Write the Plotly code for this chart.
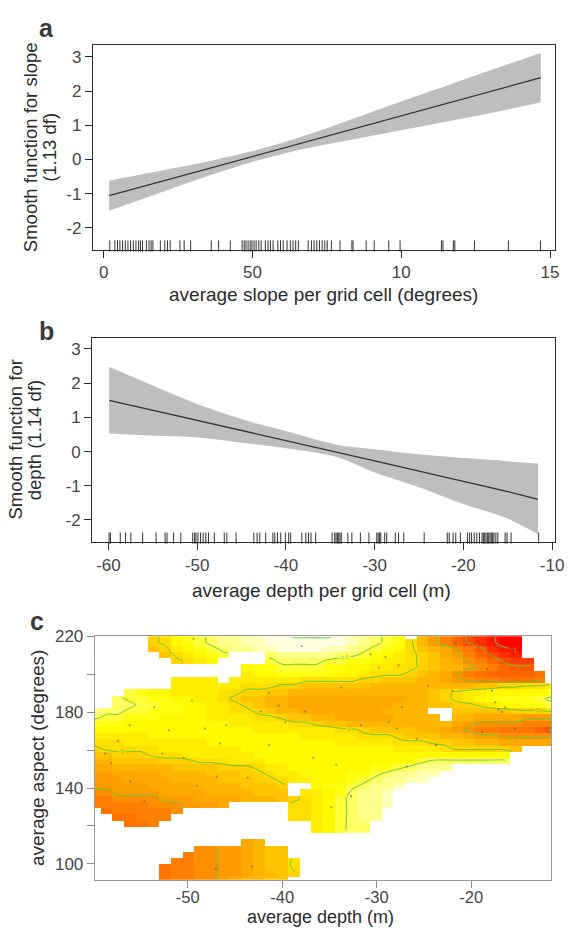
import colorsys
import numpy as np
import plotly.graph_objects as go

W, H = 568, 929

# ---------------- panel a : smooth for slope ----------------
slope_x = [0.18, 2.04, 3.37, 4.93, 6.49, 8.1, 9.74, 12.28, 14.69]
slope_fit = [-1.06, -0.62, -0.30, 0.07, 0.44, 0.82, 1.21, 1.81, 2.39]
slope_upper = [-0.62, -0.31, -0.08, 0.23, 0.62, 1.10, 1.61, 2.39, 3.11]
slope_lower = [-1.50, -0.93, -0.52, -0.09, 0.26, 0.54, 0.81, 1.23, 1.67]
slope_rug = [0.20, 0.37, 0.46, 0.54, 0.63, 0.72, 0.81, 0.90, 0.99, 1.08, 1.17, 1.23, 1.30,
             1.43, 1.52, 1.59, 1.65, 1.90, 2.05, 2.14, 2.23, 2.56, 2.70, 2.92, 3.61, 3.86,
             4.25, 4.65, 4.72, 4.78, 4.85, 4.92, 4.98, 5.05, 5.12, 5.21, 5.29, 5.43, 5.52,
             5.60, 5.69, 5.85, 5.94, 6.03, 6.16, 6.27, 6.36, 6.45, 6.54, 6.87, 6.98, 7.07,
             7.16, 7.25, 7.34, 7.43, 7.51, 7.65, 7.94, 8.34, 8.38, 8.82, 9.09, 9.58, 9.96,
             11.35, 11.40, 11.75, 11.80, 12.46, 13.60, 14.68]
slope_tickvals = [0, 5, 10, 15]
slope_ticktext = ["0", "50", "10", "15"]

# ---------------- panel b : smooth for depth ----------------
depth_x = [-59.92, -55, -50, -45, -40, -34.4, -30, -25, -20, -15, -11.6]
depth_fit = [1.50, 1.21, 0.93, 0.63, 0.33, 0.00, -0.27, -0.57, -0.87, -1.17, -1.40]
depth_upper = [2.48, 1.93, 1.39, 0.95, 0.60, 0.21, 0.07, -0.08, -0.19, -0.28, -0.35]
depth_lower = [0.53, 0.47, 0.41, 0.26, 0.10, -0.15, -0.61, -1.04, -1.53, -1.96, -2.42]
depth_rug = [-59.93, -59.78, -58.67, -58.07, -57.48, -56.15, -54.63, -53.62, -53.40, -52.66,
             -51.85, -50.51, -50.29, -50.14, -49.92, -49.62, -49.33, -49.03, -48.73, -48.07,
             -46.95, -46.66, -45.62, -43.62, -43.25, -42.95, -42.28, -41.47, -41.25, -40.95,
             -40.58, -40.06, -39.69, -39.47, -38.21, -37.76, -37.46, -37.17, -36.65, -34.80,
             -34.50, -34.35, -34.20, -34.05, -33.91, -33.76, -33.02, -32.57, -31.61, -30.65,
             -29.76, -29.61, -29.46, -29.31, -28.87, -28.64, -27.68, -27.31, -26.72, -24.42,
             -21.82, -21.60, -21.16, -20.86, -20.34, -19.53, -19.30, -19.08, -18.78, -18.49,
             -18.19, -17.90, -17.75, -17.60, -17.45, -17.30, -17.15, -17.00, -16.86, -16.71,
             -16.56, -16.34, -16.12, -15.30, -15.08, -14.63, -11.52]
smooth_tickvals = [-2, -1, 0, 1, 2, 3]
smooth_ticktext = ["-2", "-1", "0", "1", "2", "3"]
depth_tickvals = [-60, -50, -40, -30, -20, -10]
depth_ticktext = ["-60", "-50", "-40", "-30", "-20", "-10"]

# ---------------- panel c : depth x aspect surface ----------------
depth_range = [-59.83, -11.55]
aspect_range = [91.65, 220.0]
aspect_tickvals = [100, 120, 140, 160, 180, 200, 220]
aspect_ticktext = ["100", "", "140", "", "180", "", "220"]
depth_c_tickvals = [-50, -40, -30, -20]
depth_c_ticktext = ["-50", "-40", "-30", "-20"]

# observed grid cells (depth, aspect) shown as small dots
obs_depth = [-49.39, -37.93, -30.64, -29.08, -29.78, -27.69, -21.63, -19.71, -18.32, -17.28,
             -24.57, -21.97, -17.80, -17.46, -17.11, -16.76, -16.42, -53.55, -49.56, -41.41,
             -40.37, -33.77, -27.35, -37.59, -42.27, -39.67, -56.15, -51.99, -48.18, -45.92,
             -31.68, -28.74, -18.84, -15.38, -25.79, -27.87, -57.37, -46.62, -41.41, -23.71,
             -58.76, -52.69, -50.43, -36.72, -58.13, -34.29, -26.83, -56.05, -49.04, -46.96,
             -43.66, -54.59, -34.81, -32.72, -47.03, -43.21]
obs_aspect = [218.6, 214.8, 210.4, 209.0, 203.5, 204.7, 216.5, 219.1, 202.6, 213.9,
              193.9, 191.3, 191.3, 185.2, 181.4, 180.0, 182.6, 182.6, 186.1, 190.0,
              183.5, 193.0, 182.6, 180.3, 180.3, 174.8, 173.0, 170.4, 171.3, 173.0,
              173.0, 174.8, 169.5, 171.3, 166.0, 171.3, 164.8, 163.4, 162.6, 162.6,
              158.2, 158.2, 156.0, 156.0, 153.0, 152.2, 151.3, 143.5, 141.2, 146.1,
              145.5, 133.0, 129.9, 135.6, 97.4, 98.6]

# fitted surface, read cell by cell (rows from aspect 220 down to ~92, columns from depth -60 to -11.6)
# '.' = grid cell too far from data (not drawn)
level_codes = list("0123456789abcdefghijklmnopqrs")
level_values = [-1.75, -1.65, -1.55, -1.45, -1.35, -1.25, -1.15, -1.05, -0.95, -0.85,
                -0.75, -0.65, -0.55, -0.45, -0.35, -0.25, -0.15, -0.05, 0.05, 0.15,
                0.25, 0.35, 0.45, 0.55, 0.65, 0.75, 0.85, 0.95, 1.05]
surface_rows = [
    ".....hiklmnooppqqssssqponmk.fdb975310...",
    ".....hiklmnooppqqqqqqqponmlifdb975310...",
    ".....ghjklmnooppqqqqpponmlkigfeca8532...",
    "......gijklm...nooooonnmlkjihgedb9754...",
    ".......hijk....mnnnnmmllkjjihgfecb9766..",
    ".............kllmmmmllkkjjiihgffdcb988..",
    ".............jkklllllkkjiiihgfecba9999a.",
    ".......jjjj.jjjjjjiiiiihhgggffedcbbaaab.",
    ".......jjjjjjiiihhggggggfffffffffgghhiij",
    "...mlkkjjjjiihhggffffffffffffghijjkkkkkl",
    "..nmmllkkjjihggffeeeeeeeeeeffghijkllllmn",
    "..nnmmllkkjjihgffeeeeeeeeefffgghhijkkllm",
    "onnmmlllkkjjiihgffeeeeeeeffff..ggggghhhi",
    "nmmlllkkkkjjjjiihggffeeeeeffff.ffeeeeddd",
    "lllkkkkkkkkkjjjjjiihggfffffffffedccccbbb",
    "kkkkkkkkkkkkkkjjjjjjjiihggggffedcbbaaa97",
    "jjjjjkkkkkkkkkkkkkjjjjjiiihgggffeddccccc",
    "iiijjjjjjjkkkkkkkkkkkjjjjjiiihhggffeeeee",
    "hiiiiijjjjjjjkkkkkkkkkkkkkjjjjihhhhhg...",
    "gghhhiiijjjjjjkkkkkkkkkkkkkkkkkkkkkk....",
    "ffgggghhhiiijjjkkkkkkkkkkkklmnnnnnnn....",
    "eefffffgggghhhijjkkkkkkkllmnooo.........",
    "ddeeeeffffggghhijjkkkkllmnoopp..........",
    "dddeeeeffffggghhijjkkklmnoopp...........",
    "dddddeeeeffffgggh..kllmnoop.............",
    "ccddddeeeeffffggg.jjklnoop..............",
    "bbccccdddeeeefffghijkmnoop..............",
    "bbbbbcccddde.....iijkmnoop..............",
    ".abbbbbc.........iijkmnoo...............",
    "..aabbb..........iijkmnoo...............",
    "...aab.............jkmnn................",
    "...................jkmnn................",
    "........................................",
    ".............ef.........................",
    ".........ccddefgg.......................",
    "........bccddefgg.......................",
    ".......bbccddefggi......................",
    "......abbccddefggi......................",
    "......abbccddeffgh......................",
    "......abbccdeffgg.......................",
]
contour_levels = dict(start=-1.5, end=1.0, size=0.5)
color_limits = [-1.6, 0.9]

bad = [(i, len(r)) for i, r in enumerate(surface_rows) if len(r) != 40]
assert not bad, "bad row lengths: %s" % bad

code_to_value = dict(zip(level_codes, level_values))
z_top_down = [[code_to_value.get(ch, np.nan) for ch in row] for row in surface_rows]
z = np.array(z_top_down[::-1], dtype=float)
n_c = len(surface_rows[0])
n_r = len(surface_rows)
depth_grid = np.linspace(depth_range[0], depth_range[1], n_c)
aspect_grid = np.linspace(aspect_range[0], aspect_range[1], n_r)

# R heat.colors(50) palette
n_col = 50
j4 = n_col // 4
i4 = n_col - j4
heat = []
for k in range(i4):
    heat.append(colorsys.hsv_to_rgb((k / (i4 - 1)) / 6.0, 1, 1))
s_hi, s_lo = 1 - 1 / (2 * j4), 1 / (2 * j4)
for m in range(j4):
    s = s_hi - m * (s_hi - s_lo) / (j4 - 1)
    heat.append(colorsys.hsv_to_rgb(1 / 6.0, s, 1))
colorscale = [[k / (n_col - 1), "rgb(%d,%d,%d)" % tuple(int(round(255 * c)) for c in col)]
              for k, col in enumerate(heat)]

# ---------------- layout geometry (pixels) ----------------
A = dict(l=94.5, r=564, t=36.7, b=243.3)
B = dict(l=93.8, r=564, t=332.3, b=538.3)
C = dict(l=96.4, r=560, t=633.3, b=879.3)
a_xr = [-0.364, 15.17]
a_yr = [-2.646, 3.336]
b_xr = [-61.82, -9.67]
b_yr = [-2.646, 3.318]


def dom_x(p):
    return [p["l"] / W, p["r"] / W]


def dom_y(p):
    return [1 - p["b"] / H, 1 - p["t"] / H]


FONT = "Liberation Sans, Arial, Helvetica, sans-serif"
DARK = "#2b2b2b"
TICKC = "#454545"
BAND = "#BEBEBE"
CONTOUR = "#66C83A"

fig = go.Figure()

# panel a
fig.add_trace(go.Scatter(x=slope_x, y=slope_upper, mode="lines", line=dict(width=0, color=BAND),
                         line_shape="spline", xaxis="x", yaxis="y", hoverinfo="skip"))
fig.add_trace(go.Scatter(x=slope_x, y=slope_lower, mode="lines", line=dict(width=0, color=BAND),
                         line_shape="spline", fill="tonexty", fillcolor=BAND,
                         xaxis="x", yaxis="y", hoverinfo="skip"))
fig.add_trace(go.Scatter(x=slope_x, y=slope_fit, mode="lines", line=dict(width=1.3, color="#333333"),
                         xaxis="x", yaxis="y"))
a_rug_y = a_yr[0] + 4.0 * (a_yr[1] - a_yr[0]) / (A["b"] - A["t"])
fig.add_trace(go.Scatter(x=slope_rug, y=[a_rug_y] * len(slope_rug), mode="markers",
                         marker=dict(symbol="line-ns", size=8, line=dict(width=1, color="#333333")),
                         xaxis="x", yaxis="y", cliponaxis=False))

# panel b
fig.add_trace(go.Scatter(x=depth_x, y=depth_upper, mode="lines", line=dict(width=0, color=BAND),
                         xaxis="x2", yaxis="y2", line_shape="spline", hoverinfo="skip"))
fig.add_trace(go.Scatter(x=depth_x, y=depth_lower, mode="lines", line=dict(width=0, color=BAND),
                         fill="tonexty", fillcolor=BAND, xaxis="x2", yaxis="y2",
                         line_shape="spline", hoverinfo="skip"))
fig.add_trace(go.Scatter(x=depth_x, y=depth_fit, mode="lines", line=dict(width=1.3, color="#333333"),
                         xaxis="x2", yaxis="y2"))
b_rug_y = b_yr[0] + 4.0 * (b_yr[1] - b_yr[0]) / (B["b"] - B["t"])
fig.add_trace(go.Scatter(x=depth_rug, y=[b_rug_y] * len(depth_rug), mode="markers",
                         marker=dict(symbol="line-ns", size=8, line=dict(width=1, color="#333333")),
                         xaxis="x2", yaxis="y2", cliponaxis=False))

# panel c
fig.add_trace(go.Heatmap(x=depth_grid, y=aspect_grid, z=z, colorscale=colorscale,
                         zmin=color_limits[0], zmax=color_limits[1], showscale=False,
                         xaxis="x3", yaxis="y3", hoverongaps=False))
fig.add_trace(go.Contour(x=depth_grid, y=aspect_grid, z=z, showscale=False,
                         contours=dict(coloring="none", showlabels=True,
                                       labelfont=dict(size=6, color=CONTOUR), **contour_levels),
                         line=dict(color=CONTOUR, width=1), xaxis="x3", yaxis="y3",
                         connectgaps=False, hoverinfo="skip"))
fig.add_trace(go.Scatter(x=obs_depth, y=obs_aspect, mode="markers",
                         marker=dict(size=2, color="#4a4a2a", opacity=0.6),
                         xaxis="x3", yaxis="y3", hoverinfo="skip"))

common_ax = dict(showgrid=False, zeroline=False, ticks="outside", ticklen=7, tickwidth=1,
                 showline=True, mirror=True, ticklabeloverflow="allow",
                 tickfont=dict(family=FONT, size=17, color=TICKC))
ax_dark = dict(linecolor=DARK, tickcolor=DARK, linewidth=1.3)
ax_grey = dict(linecolor="#9a9a9a", tickcolor="#8a8a8a", linewidth=1.3)
c_x_ax = dict(common_ax)
c_x_ax["tickfont"] = dict(family=FONT, size=16.5, color=TICKC)

fig.update_layout(
    width=W, height=H, margin=dict(l=0, r=0, t=0, b=0),
    paper_bgcolor="white", plot_bgcolor="white", showlegend=False,
    font=dict(family=FONT, color=DARK),
    xaxis=dict(domain=dom_x(A), range=a_xr, tickvals=slope_tickvals, ticktext=slope_ticktext,
               anchor="y", **common_ax, **ax_dark),
    yaxis=dict(domain=dom_y(A), range=a_yr, tickvals=smooth_tickvals, ticktext=smooth_ticktext,
               anchor="x", **common_ax, **ax_dark),
    xaxis2=dict(domain=dom_x(B), range=b_xr, tickvals=depth_tickvals, ticktext=depth_ticktext,
                anchor="y2", **common_ax, **ax_dark),
    yaxis2=dict(domain=dom_y(B), range=b_yr, tickvals=smooth_tickvals, ticktext=smooth_ticktext,
                anchor="x2", **common_ax, **ax_dark),
    xaxis3=dict(domain=dom_x(C), range=depth_range, tickvals=depth_c_tickvals,
                ticktext=depth_c_ticktext, anchor="y3", ticklabelstandoff=-5,
                **c_x_ax, **ax_grey),
    yaxis3=dict(domain=dom_y(C), range=aspect_range, tickvals=aspect_tickvals,
                ticktext=aspect_ticktext, anchor="x3", **common_ax, **ax_grey),
)


def ann(text, xpx, ypx, size, angle=0, bold=False, color=DARK):
    fig.add_annotation(text=("<b>%s</b>" % text) if bold else text, x=xpx / W, y=1 - ypx / H,
                       xref="paper", yref="paper", showarrow=False, textangle=angle,
                       xanchor="center", yanchor="middle",
                       font=dict(family=FONT, size=size, color=color))


ann("a", 47, 19, 25, bold=True, color="#3a3a3a")
ann("b", 47, 325, 25, bold=True, color="#3a3a3a")
ann("c", 38, 618, 25, bold=True, color="#3a3a3a")

ann("Smooth function for slope", 31, 140, 18.5, angle=-90)
ann("(1.13 df)", 50, 140, 18.5, angle=-90)
ann("average slope per grid cell (degrees)", 329, 288, 19)

ann("Smooth function for", 16, 435, 18.5, angle=-90)
ann("depth (1.14 df)", 35, 435, 18.5, angle=-90)
ann("average depth per grid cell (m)", 327, 587, 19)

ann("average aspect (degrees)", 38, 756, 19, angle=-90)
ann("average depth (m)", 326, 917, 18)

fig.write_html("out.html")
